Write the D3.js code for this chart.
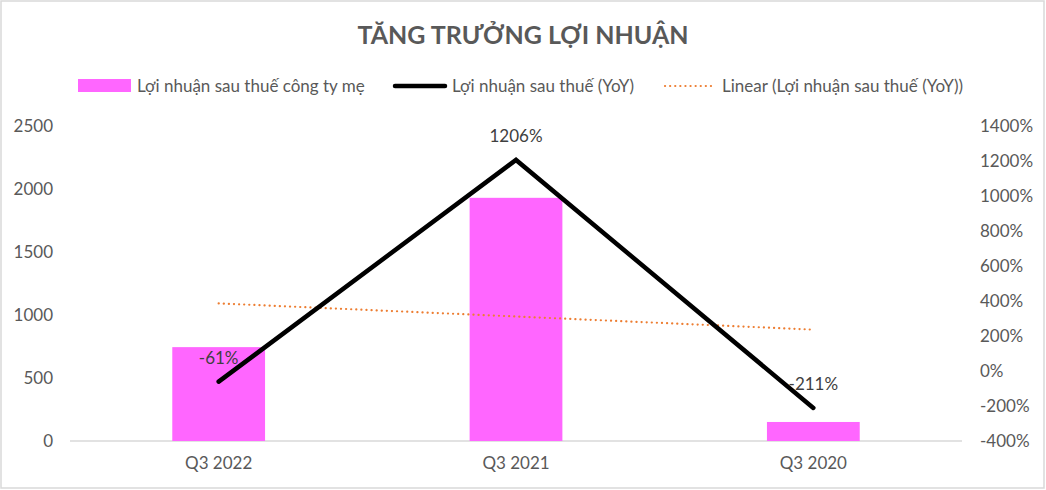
<!DOCTYPE html>
<html>
<head>
<meta charset="utf-8">
<script src="https://cdn.jsdelivr.net/npm/d3@7"></script>
<style>
  body { margin: 0; background: #fff; }
  svg { font-family: Lato, "Noto Sans", sans-serif; }
</style>
</head>
<body>
<svg width="1046" height="490"></svg>
<script>
// chart data
const quarters = ["Q3 2022", "Q3 2021", "Q3 2020"];
const profitParent = [745, 1930, 151];     // Lợi nhuận sau thuế công ty mẹ
const profitYoY = [-61, 1206, -211];       // Lợi nhuận sau thuế (YoY), %
const leftTicks = [0, 500, 1000, 1500, 2000, 2500];
const rightTicks = [-400, -200, 0, 200, 400, 600, 800, 1000, 1200, 1400];

const svg = d3.select("svg");
const width = +svg.attr("width");
const height = +svg.attr("height");
const textColor = "#595959";
const fs = 17;

const margin = { top: 126, right: 84, bottom: 49, left: 70 };
const plotW = width - margin.left - margin.right;
const plotH = height - margin.top - margin.bottom;

// outer border
svg.append("rect")
  .attr("x", 1).attr("y", 1)
  .attr("width", width - 3).attr("height", height - 3)
  .attr("fill", "#fff")
  .attr("stroke", "#d9d9d9")
  .attr("stroke-width", 1.5);

// title
svg.append("text")
  .attr("x", 523).attr("y", 44)
  .attr("text-anchor", "middle")
  .attr("fill", textColor)
  .attr("font-size", 25)
  .attr("font-weight", "bold")
  .text("TĂNG TRƯỞNG LỢI NHUẬN");

const g = svg.append("g").attr("transform", `translate(${margin.left},${margin.top})`);

const x = d3.scaleBand().domain(quarters).range([0, plotW]).paddingInner(0.688).paddingOuter(0.344);
const xc = d => x(d) + x.bandwidth() / 2;
const yL = d3.scaleLinear().domain([0, 2500]).range([plotH, 0]);
const yR = d3.scaleLinear().domain([-400, 1400]).range([plotH, 0]);

// baseline
g.append("line")
  .attr("x1", 0).attr("x2", plotW)
  .attr("y1", yL(0)).attr("y2", yL(0))
  .attr("stroke", "#d9d9d9").attr("stroke-width", 1.5);

// left axis
const leftAxis = g.append("g")
  .call(d3.axisLeft(yL).tickValues(leftTicks).tickFormat(d3.format("d")).tickSize(0).tickPadding(17));
leftAxis.select(".domain").remove();
leftAxis.selectAll("text").attr("fill", textColor).attr("font-size", fs).attr("font-family", "Lato, sans-serif");

// right axis
const rightAxis = g.append("g")
  .attr("transform", `translate(${plotW},0)`)
  .call(d3.axisRight(yR).tickValues(rightTicks).tickFormat(d => d + "%").tickSize(0).tickPadding(18));
rightAxis.select(".domain").remove();
rightAxis.selectAll("text").attr("fill", textColor).attr("font-size", fs).attr("font-family", "Lato, sans-serif");

// bottom axis labels
const bottomAxis = g.append("g")
  .attr("transform", `translate(0,${plotH})`)
  .call(d3.axisBottom(x).tickSize(0).tickPadding(16));
bottomAxis.select(".domain").remove();
bottomAxis.selectAll("text").attr("fill", textColor).attr("font-size", fs).attr("font-family", "Lato, sans-serif");

// bars
g.selectAll(".bar")
  .data(quarters)
  .join("rect")
  .attr("class", "bar")
  .attr("x", d => x(d))
  .attr("width", x.bandwidth())
  .attr("y", (d, i) => yL(profitParent[i]))
  .attr("height", (d, i) => yL(0) - yL(profitParent[i]))
  .attr("fill", "#ff66ff");

// linear trendline (least squares over category index)
const n = profitYoY.length;
const idx = d3.range(1, n + 1);
const mx = d3.mean(idx), my = d3.mean(profitYoY);
const slope = d3.sum(idx, (k, i) => (k - mx) * (profitYoY[i] - my)) / d3.sum(idx, k => (k - mx) * (k - mx));
const icpt = my - slope * mx;
const trend = [1, n].map(k => ({ q: quarters[k - 1], v: icpt + slope * k }));

g.append("path")
  .datum(trend)
  .attr("fill", "none")
  .attr("stroke", "#ed7d31")
  .attr("stroke-width", 2.2)
  .attr("stroke-linecap", "round")
  .attr("stroke-dasharray", "0.1 5")
  .attr("d", d3.line().x(d => xc(d.q)).y(d => yR(d.v)));

// YoY line
g.append("path")
  .datum(quarters)
  .attr("fill", "none")
  .attr("stroke", "#000")
  .attr("stroke-width", 4.5)
  .attr("stroke-linecap", "round")
  .attr("stroke-linejoin", "miter")
  .attr("d", d3.line().x(d => xc(d)).y((d, i) => yR(profitYoY[i])));

// data labels
g.selectAll(".lbl")
  .data(quarters)
  .join("text")
  .attr("class", "lbl")
  .attr("x", d => xc(d))
  .attr("y", (d, i) => yR(profitYoY[i]) - 18)
  .attr("text-anchor", "middle")
  .attr("fill", "#404040")
  .attr("font-size", fs)
  .text((d, i) => profitYoY[i] + "%");

// legend
const legend = svg.append("g").attr("transform", "translate(0,86)");
const items = [
  { x: 78, label: "Lợi nhuận sau thuế công ty mẹ", type: "bar" },
  { x: 393, label: "Lợi nhuận sau thuế (YoY)", type: "line" },
  { x: 663, label: "Linear (Lợi nhuận sau thuế (YoY))", type: "trend" }
];
items.forEach(it => {
  const li = legend.append("g").attr("transform", `translate(${it.x},0)`);
  if (it.type === "bar") {
    li.append("rect").attr("x", 0).attr("y", -7).attr("width", 53).attr("height", 13).attr("fill", "#ff66ff");
  } else if (it.type === "line") {
    li.append("line").attr("x1", 2).attr("x2", 52).attr("y1", 0).attr("y2", 0)
      .attr("stroke", "#000").attr("stroke-width", 4.5).attr("stroke-linecap", "round");
  } else {
    li.append("line").attr("x1", 2).attr("x2", 52).attr("y1", 0).attr("y2", 0)
      .attr("stroke", "#ed7d31").attr("stroke-width", 2.2).attr("stroke-linecap", "round")
      .attr("stroke-dasharray", "0.1 5");
  }
  li.append("text")
    .attr("x", 59).attr("y", 6)
    .attr("fill", textColor)
    .attr("font-size", fs)
    .text(it.label);
});
</script>
</body>
</html>
